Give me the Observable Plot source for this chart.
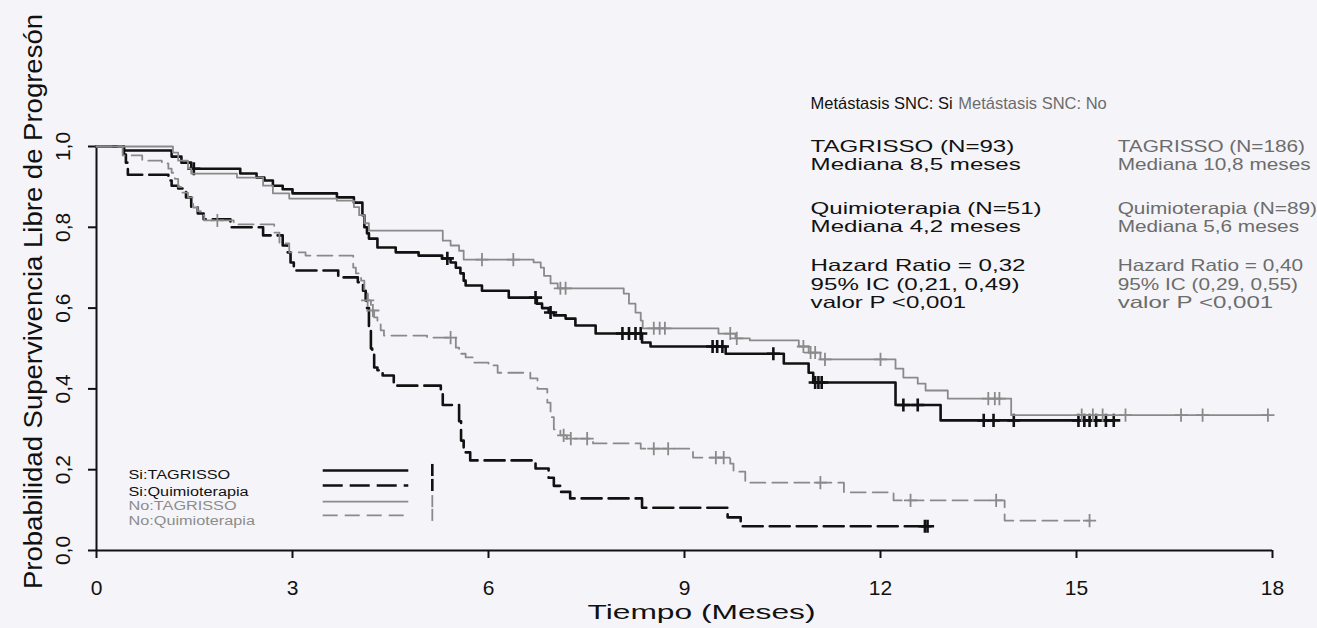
<!DOCTYPE html>
<html><head><meta charset="utf-8">
<script src="https://cdn.jsdelivr.net/npm/d3@7"></script>
<script src="https://cdn.jsdelivr.net/npm/@observablehq/plot@0.6"></script>
<style>
html,body{margin:0;padding:0;background:#f5f5f9;}
#chart svg{display:block;}
</style></head><body><div id="chart"></div>
<script>
// ---------- axis ticks ----------
const xTicks = [0, 3, 6, 9, 12, 15, 18];
const yTicks = [0, 0.2, 0.4, 0.6, 0.8, 1.0];
const yTickLabels = ["0,0", "0,2", "0,4", "0,6", "0,8", "1,0"];
const xTitle = "Tiempo (Meses)";
const yTitle = "Probabilidad Supervivencia Libre de Progresón";

// ---------- Si:TAGRISSO ----------
const siTagT = [0,0.42,1.15,1.3,1.45,2.2,2.45,2.57,2.7,2.85,3.0,3.68,3.94,4.07,4.1,4.14,4.17,4.3,4.58,4.93,5.29,5.42,5.5,5.57,5.62,5.65,5.9,6.31,6.74,6.82,6.92,7.0,7.18,7.33,7.64,8.35,8.48,9.63,10.52,10.9,10.97,12.23,12.92,15.57];
const siTagS = [1.0,0.99,0.975,0.96,0.945,0.933,0.923,0.916,0.903,0.894,0.884,0.874,0.861,0.83,0.80,0.785,0.772,0.75,0.738,0.73,0.723,0.713,0.70,0.686,0.668,0.656,0.643,0.626,0.611,0.60,0.589,0.582,0.574,0.557,0.537,0.515,0.505,0.487,0.463,0.44,0.416,0.36,0.322,0.322];
const siTagCens = [1.49,5.37,6.72,6.95,8.05,8.15,8.25,8.33,9.43,9.5,9.58,10.36,11.0,11.05,11.1,12.35,12.57,13.58,13.73,14.04,15.03,15.12,15.2,15.3,15.45,15.57];

// ---------- Si:Quimioterapia ----------
const siQuiT = [0,0.42,0.45,0.48,1.1,1.15,1.25,1.37,1.45,1.55,1.64,2.05,2.55,2.85,2.92,2.97,3.02,3.7,4.0,4.08,4.12,4.14,4.17,4.2,4.22,4.25,4.3,4.38,4.55,5.27,5.3,5.55,5.58,5.62,5.72,6.72,6.92,7.0,7.1,7.25,8.35,9.66,9.86,12.72];
const siQuiS = [1.0,0.98,0.96,0.93,0.916,0.903,0.896,0.874,0.849,0.834,0.82,0.80,0.78,0.755,0.738,0.713,0.693,0.676,0.664,0.643,0.619,0.60,0.55,0.50,0.487,0.453,0.446,0.433,0.408,0.388,0.36,0.32,0.272,0.243,0.223,0.203,0.18,0.16,0.145,0.129,0.106,0.082,0.06,0.06];
const siQuiCens = [12.68,12.72];

// ---------- No:TAGRISSO ----------
const noTagT = [0,1.17,1.25,1.4,1.45,2.15,2.55,2.7,2.95,3.68,3.94,4.02,4.1,4.17,5.3,5.42,5.55,5.62,6.69,6.8,6.85,6.95,7.06,8.07,8.15,8.25,8.33,8.36,9.52,9.78,10.0,10.75,10.9,11.08,12.23,12.35,12.57,12.69,13.03,14.0,17.93];
const noTagS = [1.0,0.985,0.965,0.945,0.933,0.923,0.903,0.884,0.871,0.866,0.85,0.83,0.81,0.792,0.767,0.755,0.742,0.72,0.713,0.70,0.68,0.661,0.649,0.636,0.611,0.589,0.569,0.55,0.537,0.525,0.52,0.505,0.49,0.473,0.45,0.428,0.413,0.396,0.376,0.335,0.335];
const noTagCens = [5.9,6.38,7.1,7.18,8.53,8.62,8.7,9.7,9.8,10.82,10.93,11.0,11.15,12.0,13.65,13.75,13.82,15.08,15.25,15.4,15.75,16.6,16.93,17.93];

// ---------- No:Quimioterapia ----------
const noQuiT = [0,0.4,0.7,1.0,1.1,1.15,1.2,1.25,1.3,1.4,1.48,1.55,1.6,1.65,2.1,2.72,2.8,2.95,3.2,3.93,3.97,4.05,4.1,4.15,4.2,4.25,4.3,4.35,4.4,5.06,5.5,5.55,5.65,5.77,6.0,6.14,6.64,6.75,6.9,6.95,7.0,7.1,7.2,7.6,8.33,9.13,9.7,9.75,9.93,11.44,12.2,13.9,15.2];
const noQuiS = [1.0,0.978,0.965,0.958,0.945,0.935,0.92,0.90,0.886,0.874,0.849,0.84,0.83,0.817,0.807,0.787,0.76,0.738,0.73,0.70,0.686,0.668,0.64,0.619,0.594,0.577,0.562,0.545,0.532,0.527,0.502,0.487,0.478,0.465,0.458,0.44,0.426,0.40,0.366,0.33,0.30,0.285,0.277,0.265,0.252,0.23,0.215,0.195,0.168,0.144,0.124,0.074,0.074];
const noQuiCens = [1.85,4.15,4.23,5.42,7.15,7.26,7.51,8.53,8.75,9.48,9.6,11.08,12.46,13.77,15.2];

// ---------- legend & annotations ----------
const legendLabels = ["Si:TAGRISSO", "Si:Quimioterapia", "No:TAGRISSO", "No:Quimioterapia"];
const annotLeft = ["Metástasis SNC: Si", "TAGRISSO (N=93)", "Mediana 8,5 meses", "Quimioterapia (N=51)", "Mediana 4,2 meses", "Hazard Ratio = 0,32", "95% IC (0,21, 0,49)", "valor P <0,001"];
const annotRight = ["Metástasis SNC: No", "TAGRISSO (N=186)", "Mediana 10,8 meses", "Quimioterapia (N=89)", "Mediana 5,6 meses", "Hazard Ratio = 0,40", "95% IC (0,29, 0,55)", "valor P <0,001"];

// ---------- helpers ----------
const toRows = (T, S) => T.map((t, i) => ({t, s: S[i]}));
const survAt = (T, S, t) => { let k = 0; for (let i = 0; i < T.length; i++) if (T[i] <= t) k = i; return S[k]; };
const censRows = (C, T, S) => C.map(t => ({t, s: survAt(T, S, t)}));

const BLACK = "#111", GRAY = "#8a8a8a", TGRAY = "#6c6c6c";
const series = [
  {T: siTagT, S: siTagS, C: siTagCens, stroke: BLACK, w: 2.6, dash: null},
  {T: siQuiT, S: siQuiS, C: siQuiCens, stroke: BLACK, w: 2.6, dash: "20,7"},
  {T: noTagT, S: noTagS, C: noTagCens, stroke: GRAY, w: 1.8, dash: null},
  {T: noQuiT, S: noQuiS, C: noQuiCens, stroke: GRAY, w: 1.8, dash: "15,7"}
];

// legend layout (data units)
const legTextX = 0.49, legLineX1 = 3.47, legLineX2 = 4.78, legCensX = 5.14;
const legTextY = [0.186, 0.146, 0.111, 0.074];
const legLineY = [0.198, 0.161, 0.121, 0.087];
// annotation layout (data units)
const annRowY = [1.106, 1.0, 0.955, 0.847, 0.802, 0.705, 0.658, 0.614];
const annLeftX = 10.93, annHeadRightX = 13.19, annRightX = 15.63;

const marks = [];
// axes
marks.push(Plot.ruleY([0], {stroke: BLACK, strokeWidth: 2}));
marks.push(Plot.ruleX([0], {stroke: BLACK, strokeWidth: 2}));
marks.push(Plot.axisX({ticks: xTicks, tickSize: 8, tickPadding: 22, fontSize: 21, label: null, strokeWidth: 2}));
marks.push(Plot.axisY({ticks: yTicks, tickSize: 8, tickFormat: () => "", label: null, strokeWidth: 2}));
marks.push(Plot.text(yTicks, {x: 0, y: d => d, text: (d, i) => yTickLabels[i], rotate: -90, dx: -33, fontSize: 21, textAnchor: "middle", lineAnchor: "middle", fill: BLACK}));
marks.push(Plot.text([yTitle], {frameAnchor: "left", dx: -63, dy: -47, rotate: -90, fontSize: 25, textAnchor: "middle", lineAnchor: "middle", fill: BLACK}));
marks.push(Plot.text([xTitle], {frameAnchor: "bottom", dx: 17, dy: 62, fontSize: 21, textAnchor: "middle", lineAnchor: "middle", fill: BLACK}));

// curves
for (const sr of series) {
  marks.push(Plot.line(toRows(sr.T, sr.S), {x: "t", y: "s", curve: "step-after", stroke: sr.stroke, strokeWidth: sr.w, strokeDasharray: sr.dash ?? undefined}));
  marks.push(Plot.dot(censRows(sr.C, sr.T, sr.S), {x: "t", y: "s", symbol: "plus", r: 4.3, stroke: sr.stroke, strokeWidth: sr.w, fill: "none"}));
}

// legend
series.forEach((sr, i) => {
  marks.push(Plot.ruleY([legLineY[i]], {x1: legLineX1, x2: legLineX2, stroke: sr.stroke, strokeWidth: sr.w, strokeDasharray: sr.dash ?? undefined}));
  marks.push(Plot.ruleX([legCensX], {y1: legLineY[i] - 0.015, y2: legLineY[i] + 0.015, stroke: sr.stroke, strokeWidth: sr.w}));
});
marks.push(Plot.text(legendLabels, {x: legTextX, y: (d, i) => legTextY[i], text: d => d, textAnchor: "start", lineAnchor: "middle", fontSize: 12.5, fontWeight: (d, i) => i < 2 ? "bold" : "normal", fill: (d, i) => i < 2 ? BLACK : "#8c8c8c"}));

// annotations
marks.push(Plot.text(annotLeft.slice(0, 1), {x: annLeftX, y: annRowY[0], text: d => d, textAnchor: "start", lineAnchor: "middle", fontSize: 16.5, fill: BLACK}));
marks.push(Plot.text(annotRight.slice(0, 1), {x: annHeadRightX, y: annRowY[0], text: d => d, textAnchor: "start", lineAnchor: "middle", fontSize: 16.5, fill: TGRAY}));
marks.push(Plot.text(annotLeft.slice(1), {x: annLeftX, y: (d, i) => annRowY[i + 1], text: d => d, textAnchor: "start", lineAnchor: "middle", fontSize: 16.5, fill: BLACK}));
marks.push(Plot.text(annotRight.slice(1), {x: annRightX, y: (d, i) => annRowY[i + 1], text: d => d, textAnchor: "start", lineAnchor: "middle", fontSize: 16.5, fill: TGRAY}));

const chart = Plot.plot({
  width: 1317, height: 628,
  marginLeft: 96, marginRight: 45, marginTop: 146, marginBottom: 78,
  x: {domain: [0, 18]},
  y: {domain: [0, 1]},
  style: {fontFamily: "'Liberation Sans', Arial, sans-serif", background: "transparent", color: BLACK, overflow: "visible"},
  marks
});
document.getElementById("chart").append(chart);

// horizontal stretch of text, matched by content
const stretchBy = new Map();
annotRight.slice(1).forEach(s => stretchBy.set(s, 1.26));
annotLeft.slice(1).forEach(s => stretchBy.set(s, 1.46));
legendLabels.forEach(s => stretchBy.set(s, 1.3));
const fitTo = new Map([[xTitle, 228], [yTitle, 575]]);
chart.querySelectorAll("text").forEach(el => {
  const s = el.textContent;
  let L = null;
  if (fitTo.has(s)) L = fitTo.get(s);
  else if (stretchBy.has(s)) L = el.getComputedTextLength() * stretchBy.get(s);
  if (L != null) {
    el.setAttribute("textLength", L.toFixed(1));
    el.setAttribute("lengthAdjust", "spacingAndGlyphs");
  }
});
</script></body></html>
